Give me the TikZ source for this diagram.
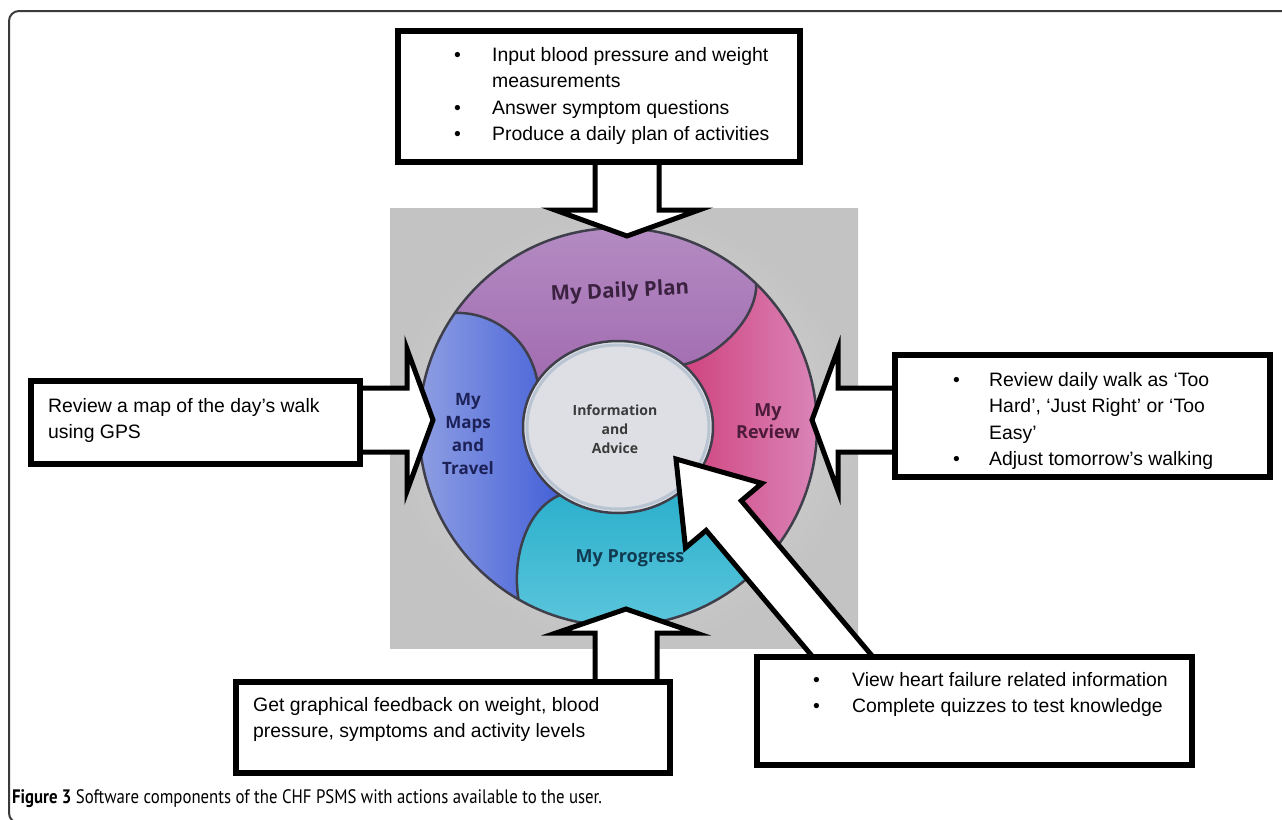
\documentclass[tikz,border=0pt]{standalone}
\usepackage{fontspec}
\setmainfont{Liberation Sans}
\newfontfamily\ringfont{Open Sans}
\newfontfamily\capfont[FakeStretch=0.86]{PT Sans}
\usetikzlibrary{calc,shapes.geometric}

\definecolor{bgin}{HTML}{DCDCDC}
\definecolor{bgout}{HTML}{C3C3C3}
\definecolor{planA}{HTML}{B48CC3}
\definecolor{planB}{HTML}{A26CB0}
\definecolor{reviewA}{HTML}{D0437F}
\definecolor{reviewB}{HTML}{DB8FC0}
\definecolor{progA}{HTML}{27ADCB}
\definecolor{progB}{HTML}{62C9DE}
\definecolor{mapsA}{HTML}{8E9EE2}
\definecolor{mapsB}{HTML}{4561D8}
\definecolor{infofill}{HTML}{DEDFE4}
\definecolor{inforim}{HTML}{B9C4D3}
\definecolor{ringline}{HTML}{3F3F4C}
\definecolor{planText}{HTML}{3B2140}
\definecolor{mapsText}{HTML}{1C2157}
\definecolor{reviewText}{HTML}{4B1B39}
\definecolor{progText}{HTML}{113B50}
\definecolor{infoText}{HTML}{3A3A3A}
\definecolor{framegrey}{HTML}{3A3A3A}

\newcommand{\fatarrow}[5]{%
  \coordinate (h) at ($(#2)!#5pt!(#1)$);
  \filldraw[arrowline] ($(#1)!#3pt!90:(#2)$) -- ($(h)!#3pt!90:(#2)$)
    -- ($(h)!#4pt!90:(#2)$) -- (#2) -- ($(h)!#4pt!-90:(#2)$)
    -- ($(h)!#3pt!-90:(#2)$) -- ($(#1)!#3pt!-90:(#2)$) -- cycle;}

\begin{document}
\begin{tikzpicture}[x=1pt,y=1pt,yscale=-1,
    frame/.style={inner sep=0},
    box/.style={draw,fill=white,line width=6},
    arrowline/.style={draw=black,fill=white,line width=5,line join=miter},
    txt/.style={anchor=base west,inner sep=0,font=\fontsize{19.4}{26.5}\selectfont},
    ring/.style={draw=ringline,line width=2.5},
    seglabel/.style={font=\ringfont\bfseries\fontsize{18}{22.5}\selectfont,align=center,inner sep=0}]

        \useasboundingbox (0,0) rectangle (1282,819);

        \shade[inner color=bgin,outer color=bgout] (390,208) rectangle (858,648);

        \coordinate (C00) at (618,427);

        \begin{scope}[shift={(C00)}]
        \fill[left color=mapsA,right color=mapsB]
                (120:199) arc[start angle=120,end angle=215,radius=199]
                .. controls (-123,-115) and (-88,-87) .. (-80.6,-45.6)
                arc[start angle=212,end angle=127.7,x radius=95,y radius=86]
                .. controls (-93,83) and (-106,133) .. (120:199) -- cycle;
        \fill[top color=planA,bottom color=planB]
                (215:199) arc[start angle=215,end angle=314,radius=199]
                .. controls (139,-107) and (97,-69) .. (65.4,-62.4)
                arc[start angle=313.5,end angle=212,x radius=95,y radius=86]
                .. controls (-88,-87) and (-123,-115) .. (215:199) -- cycle;
        \fill[left color=reviewA,right color=reviewB]
                (314:199) arc[start angle=314,end angle=402,radius=199]
                .. controls (122,118) and (92,73) .. (75.6,52.1)
                arc[start angle=397.3,end angle=313.5,x radius=95,y radius=86]
                .. controls (97,-69) and (139,-107) .. (314:199) -- cycle;
        \fill[top color=progA,bottom color=progB]
                (42:199) arc[start angle=42,end angle=120,radius=199]
                .. controls (-106,133) and (-93,83) .. (-58.1,68)
                arc[start angle=127.7,end angle=37.3,x radius=95,y radius=86]
                .. controls (92,73) and (122,118) .. (42:199) -- cycle;
        \draw[ring] (0,0) circle[radius=199];
        \draw[ring] (215:199) .. controls (-123,-115) and (-88,-87) .. (-80.6,-45.6);
        \draw[ring] (314:199) .. controls (139,-107) and (97,-69) .. (65.4,-62.4);
        \draw[ring] (42:199) .. controls (122,118) and (92,73) .. (75.6,52.1);
        \draw[ring] (120:199) .. controls (-106,133) and (-93,83) .. (-58.1,68);
        \end{scope}

        \node[ellipse,fill=infofill,draw=ringline,line width=2.5,minimum width=190,minimum height=172] (I00) at (C00) {};
        \draw[inforim,line width=3] (C00) ellipse[x radius=91,y radius=82];

        \node[seglabel,text=planText,rotate=3,font=\ringfont\bfseries\fontsize{20.5}{22}\selectfont] (L01) at (620,292) {My Daily Plan};
        \node[seglabel,text=mapsText,font=\ringfont\bfseries\fontsize{17}{22.7}\selectfont] (L02) at (468,434) {My\\Maps\\and\\Travel};
        \node[seglabel,text=reviewText]          (L03) at (768,421) {My\\Review};
        \node[seglabel,text=progText]            (L04) at (630,558) {My Progress};
        \node[seglabel,text=infoText,font=\ringfont\bfseries\fontsize{14}{19}\selectfont] (L05) at (615,429) {Information\\and\\Advice};

        \coordinate (T01) at (627,236);
        \coordinate (T02) at (433,420);
        \coordinate (T03) at (812,420);
        \coordinate (T04) at (626,609);
        \coordinate (T05) at (676,459);

        \node[frame,minimum width=402,minimum height=131] (B01) at (599,96.5)   {};
        \node[frame,minimum width=329,minimum height=83]  (B02) at (195.5,422.5) {};
        \node[frame,minimum width=375,minimum height=122] (B03) at (1082.5,416) {};
        \node[frame,minimum width=434,minimum height=91]  (B04) at (453,727.5)  {};
        \node[frame,minimum width=435,minimum height=108] (B05) at (974.5,711)  {};

        \coordinate (S05) at ($($(B05.north west)+(86,0)$)!-30pt!(T05)$);

        \fatarrow{B01.south -| T01}{T01}{32}{72}{26}
        \fatarrow{B02.east |- T02}{T02}{32}{71}{26}
        \fatarrow{B03.west |- T03}{T03}{32}{71}{26}
        \fatarrow{B04.north -| T04}{T04}{31}{70}{24}
        \fatarrow{S05}{T05}{23}{50}{74}

        \draw[box] (B01.north west) rectangle (B01.south east);
        \draw[box] (B02.north west) rectangle (B02.south east);
        \draw[box] (B03.north west) rectangle (B03.south east);
        \draw[box] (B04.north west) rectangle (B04.south east);
        \draw[box] (B05.north west) rectangle (B05.south east);

        \node[txt] (X01) at (454,61) {\begin{tabular}[t]{@{}p{38pt}@{}l@{}}
                \textbullet & Input blood pressure and weight\\
                            & measurements\\
                \textbullet & Answer symptom questions\\
                \textbullet & Produce a daily plan of activities
                \end{tabular}};
        \node[txt] (X02) at (48,412) {\begin{tabular}[t]{@{}l@{}}
                Review a map of the day’s walk\\
                using GPS
                \end{tabular}};
        \node[txt] (X03) at (953,386) {\begin{tabular}[t]{@{}p{36pt}@{}l@{}}
                \textbullet & Review daily walk as ‘Too\\
                            & Hard’, ‘Just Right’ or ‘Too\\
                            & Easy’\\
                \textbullet & Adjust tomorrow’s walking
                \end{tabular}};
        \node[txt] (X04) at (253,711) {\begin{tabular}[t]{@{}l@{}}
                Get graphical feedback on weight, blood\\
                pressure, symptoms and activity levels
                \end{tabular}};
        \node[txt] (X05) at (813,686) {\begin{tabular}[t]{@{}p{39pt}@{}l@{}}
                \textbullet & View heart failure related information\\
                \textbullet & Complete quizzes to test knowledge
                \end{tabular}};

        \node[anchor=base west,inner sep=0,font=\capfont\fontsize{19.5}{21}\selectfont] (CAP) at (12,803)
                {\textbf{Figure 3} Software components of the CHF PSMS with actions available to the user.};

        \draw[framegrey,line width=2,rounded corners=10] (1290,11) -- (9,11) -- (9,823) -- (1290,823);
\end{tikzpicture}
\end{document}
